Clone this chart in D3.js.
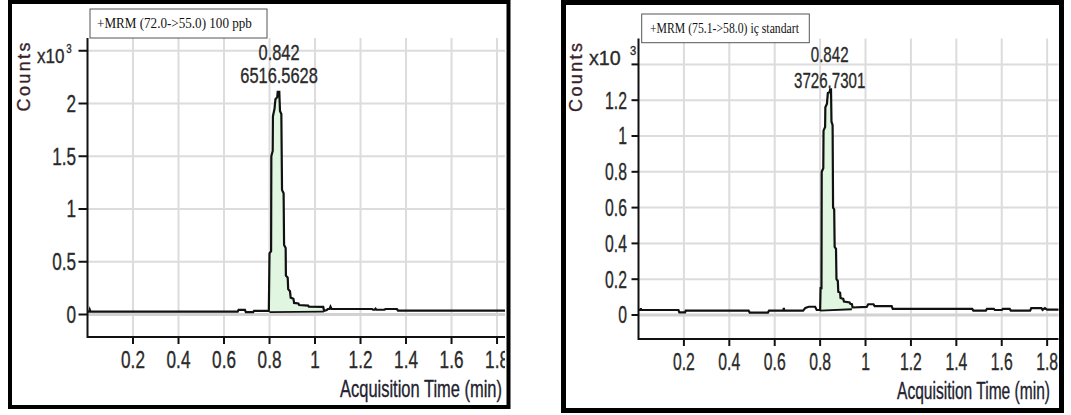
<!DOCTYPE html>
<html><head><meta charset="utf-8">
<script src="https://cdn.jsdelivr.net/npm/d3@7"></script>
<style>body{margin:0;background:#fff;} svg{display:block}</style>
</head><body>
<svg id="c" width="1071" height="415"></svg>
<script>
// ---------------- DATA ----------------
const xTickValues = [0.2, 0.4, 0.6, 0.8, 1.0, 1.2, 1.4, 1.6, 1.8];
const leftYTickValues = [0, 0.5, 1, 1.5, 2, 2.5];
const rightYTickValues = [0, 0.2, 0.4, 0.6, 0.8, 1.0, 1.2, 1.4];
const leftTitle = "+MRM (72.0->55.0) 100 ppb";
const rightTitle = "+MRM (75.1->58.0) iç standart";
const leftPeakLabels = ["0.842", "6516.5628"];
const rightPeakLabels = ["0.842", "3726.7301"];
const peakRT = 0.842;
const yAxisTitle = "Counts";
const xAxisTitle = "Acquisition Time (min)";
const multiplierBase = "x10", multiplierExp = "3";

// left trace: time (min), counts (x10^3)
const leftTime = [0, 0.008, 0.010, 0.013, 0.660, 0.664, 0.692, 0.696, 0.728, 0.732, 0.797,
  0.800, 0.807, 0.808, 0.814, 0.815, 0.822, 0.826, 0.834, 0.836, 0.843, 0.846, 0.852, 0.855,
  0.862, 0.864, 0.871, 0.872, 0.880, 0.882, 0.890, 0.893, 0.905, 0.908, 0.927, 0.930, 0.970,
  0.973, 1.036, 1.040, 1.052, 1.056, 1.064, 1.068, 1.073, 1.250, 1.256, 1.262, 1.266, 1.270,
  1.305, 1.310, 1.360, 1.365, 1.835];
const leftCounts = [0.027, 0.027, 0.045, 0.027, 0.027, 0.043, 0.043, 0.022, 0.022, 0.035, 0.035,
  0.58, 0.60, 1.50, 1.55, 1.88, 1.95, 2.04, 2.06, 2.11, 2.11, 1.93, 1.90, 1.18,
  1.15, 0.66, 0.63, 0.37, 0.35, 0.24, 0.22, 0.16, 0.15, 0.11, 0.105, 0.09, 0.085,
  0.075, 0.072, 0.035, 0.042, 0.052, 0.052, 0.074, 0.052, 0.052, 0.045, 0.045, 0.055, 0.045,
  0.045, 0.052, 0.052, 0.036, 0.036];
const leftIntTime = [0.800, 1.038];
const leftIntBase = [0.022, 0.028];

// right trace: time (min), counts (x10^3)
const rightTime = [0, 0.008, 0.010, 0.012, 0.176, 0.180, 0.205, 0.208, 0.485, 0.490, 0.570,
  0.575, 0.638, 0.640, 0.642, 0.725, 0.735, 0.750, 0.778, 0.785, 0.800, 0.802, 0.806, 0.807,
  0.814, 0.815, 0.822, 0.823, 0.830, 0.834, 0.842, 0.844, 0.848, 0.850, 0.855, 0.857, 0.862,
  0.864, 0.870, 0.872, 0.878, 0.880, 0.888, 0.890, 0.902, 0.905, 0.930, 0.933, 0.940, 0.943,
  1.005, 1.012, 1.035, 1.040, 1.115, 1.120, 1.470, 1.475, 1.530, 1.535, 1.565, 1.570, 1.600,
  1.605, 1.635, 1.640, 1.725, 1.730, 1.775, 1.780, 1.790, 1.800, 1.850];
const rightCounts = [0.028, 0.028, 0.038, 0.028, 0.028, 0.015, 0.015, 0.024, 0.024, 0.013, 0.013,
  0.024, 0.024, 0.040, 0.024, 0.024, 0.040, 0.046, 0.046, 0.028, 0.028, 0.15, 0.15, 0.80,
  0.82, 1.03, 1.05, 1.16, 1.18, 1.24, 1.245, 1.26, 1.26, 1.08, 1.06, 0.60, 0.59,
  0.38, 0.37, 0.20, 0.19, 0.13, 0.125, 0.095, 0.09, 0.075, 0.07, 0.062, 0.06, 0.042,
  0.045, 0.060, 0.060, 0.050, 0.050, 0.034, 0.034, 0.024, 0.024, 0.034, 0.034, 0.028, 0.028,
  0.034, 0.034, 0.024, 0.024, 0.038, 0.038, 0.028, 0.038, 0.030, 0.030];
const rightIntTime = [0.800, 0.940];
const rightIntBase = [0.024, 0.032];

// ---------------- LAYOUT ----------------
const SANS = "'Liberation Sans',Arial,sans-serif";
const SERIF = "'Liberation Serif','Times New Roman',serif";
const panels = [
  { id: "L", frame: {x0: 8, y0: 0, x1: 510.5, y1: 409, sw: 4},
    plot: {l: 87.5, r: 505, t: 38, b: 337}, xMax: 1.835, y0px: 314.5, yUnit: 105.5,
    yTicks: leftYTickValues, title: leftTitle, titleBox: {x: 90, y: 9, w: 177, h: 29}, titleText: {x: 97, y: 28, w: 155},
    counts: {x: 24, y: 77}, mult: {x: 37, y: 63, gap: 2, sup: -10, w: 33},
    peak: leftPeakLabels, peakY: [60, 83], xLab: {x: 502, y: 397, w: 162}, xTickY: 368, yLabX: 76, yTickLen: 9,
    sq: 0.73,
    time: leftTime, counts_: leftCounts, intT: leftIntTime, intB: leftIntBase },
  { id: "R", frame: {x0: 561, y0: 0, x1: 1064, y1: 413, sw: 5},
    plot: {l: 638.5, r: 1058.5, t: 38.5, b: 339}, xMax: 1.850, y0px: 315, yUnit: 179,
    yTicks: rightYTickValues, title: rightTitle, titleBox: {x: 641.7, y: 14, w: 167.6, h: 28.7}, titleText: {x: 650, y: 32.5, w: 149},
    counts: {x: 576, y: 77.5}, mult: {x: 589, y: 65, gap: 10, sup: -10, w: 38},
    peak: rightPeakLabels, peakY: [62, 88], xLab: {x: 1050, y: 399, w: 153}, xTickY: 370, yLabX: 627, yTickLen: 7,
    sq: 0.67,
    time: rightTime, counts_: rightCounts, intT: rightIntTime, intB: rightIntBase }
];

const svg = d3.select("#c");
const defs = svg.append("defs");

// horizontally condensed text, drawn with a transform so its box is exact
// opts: {x, y, anchor, size, family, fill, factor | width, dy}
function condensed(parent, str, o) {
  const wrap = parent.append("g");
  const t = wrap.append("text").attr("x", 0).attr("y", 0)
    .attr("text-anchor", o.anchor || "start").attr("dy", o.dy || null)
    .attr("font-family", o.family || SANS).attr("font-size", o.size).attr("fill", o.fill || "#2a2a2a")
    .attr("stroke", o.bold === false ? null : (o.fill || "#2a2a2a")).attr("stroke-width", o.bold === false ? null : 0.35);
  if (typeof str === "string") t.text(str); else str(t);
  const len = t.node().getComputedTextLength();
  const f = o.width ? o.width / len : o.factor;
  wrap.attr("transform", `translate(${o.x},${o.y}) scale(${f},1)`);
  return wrap;
}

panels.forEach(p => {
  const g = svg.append("g");
  const P = p.plot;
  const x = d3.scaleLinear().domain([0, p.xMax]).range([P.l, P.r]);
  const yMin = -(P.b - p.y0px) / p.yUnit, yMax = (p.y0px - P.t) / p.yUnit;
  const y = d3.scaleLinear().domain([yMin, yMax]).range([P.b, P.t]);

  defs.append("clipPath").attr("id", "clip" + p.id)
    .append("rect").attr("x", P.l - 60).attr("y", 0).attr("width", P.r - P.l + 60).attr("height", 415);

  // gridlines
  const grid = g.append("g");
  grid.selectAll("line.v").data(xTickValues).join("line")
    .attr("x1", d => x(d)).attr("x2", d => x(d)).attr("y1", P.t).attr("y2", P.b)
    .attr("stroke", "#dcdcdc").attr("stroke-width", 2);
  grid.selectAll("line.h").data(p.yTicks).join("line")
    .attr("x1", P.l).attr("x2", P.r).attr("y1", d => y(d)).attr("y2", d => y(d))
    .attr("stroke", d => d === 0 ? "#d2d2d2" : "#dcdcdc").attr("stroke-width", d => d === 0 ? 3 : 2);

  // integrated area
  const [t0, t1] = p.intT;
  const baseAt = t => p.intB[0] + (p.intB[1] - p.intB[0]) * (t - t0) / (t1 - t0);
  const curveAt = t => {
    const i = d3.bisectRight(p.time, t);
    if (i <= 0) return p.counts_[0];
    if (i >= p.time.length) return p.counts_[p.counts_.length - 1];
    const ta = p.time[i - 1], tb = p.time[i];
    return p.counts_[i - 1] + (p.counts_[i] - p.counts_[i - 1]) * (t - ta) / (tb - ta);
  };
  const areaPts = [t0, ...p.time.filter(t => t > t0 && t < t1), t1].map(t => ({t, v: curveAt(t), b: baseAt(t)}));
  g.append("path").datum(areaPts)
    .attr("d", d3.area().x(d => x(d.t)).y0(d => y(d.b)).y1(d => y(d.v)))
    .attr("fill", "#e0f6e0").attr("stroke", "none");
  g.append("line").attr("x1", x(t0)).attr("x2", x(t1)).attr("y1", y(p.intB[0])).attr("y2", y(p.intB[1]))
    .attr("stroke", "#111").attr("stroke-width", 1.8);

  // trace
  const pts = p.time.map((t, i) => ({t, v: p.counts_[i]}));
  g.append("path").datum(pts)
    .attr("d", d3.line().x(d => x(d.t)).y(d => y(d.v)))
    .attr("fill", "none").attr("stroke", "#111").attr("stroke-width", 2.2).attr("stroke-linejoin", "miter");

  // axes lines
  g.append("line").attr("x1", P.l).attr("x2", P.l).attr("y1", P.t).attr("y2", P.b + 1).attr("stroke", "#111").attr("stroke-width", 2);
  g.append("line").attr("x1", P.l).attr("x2", P.r).attr("y1", P.b).attr("y2", P.b).attr("stroke", "#111").attr("stroke-width", 2);

  // y ticks + labels (top tick carries the multiplier instead of a number)
  g.selectAll("line.yt").data(p.yTicks).join("line")
    .attr("x1", P.l - p.yTickLen).attr("x2", P.l).attr("y1", d => y(d)).attr("y2", d => y(d))
    .attr("stroke", "#111").attr("stroke-width", 2);
  p.yTicks.slice(0, -1).forEach(v => {
    condensed(g, d3.format("~g")(v), {x: p.yLabX, y: y(v), anchor: "end", dy: "0.36em", size: 23.5, factor: p.sq});
  });

  // x ticks + labels
  g.selectAll("line.xt").data(xTickValues).join("line")
    .attr("x1", d => x(d)).attr("x2", d => x(d)).attr("y1", P.b).attr("y2", P.b + 7)
    .attr("stroke", "#111").attr("stroke-width", 2);
  const xl = g.append("g").attr("clip-path", `url(#clip${p.id})`);
  xTickValues.forEach(v => {
    condensed(xl, d3.format("~g")(v), {x: x(v), y: p.xTickY, anchor: "middle", size: 23.5, factor: p.sq});
  });

  // axis titles
  condensed(g, xAxisTitle, {x: p.xLab.x, y: p.xLab.y, anchor: "end", size: 23, fill: "#22222e", width: p.xLab.w});
  g.append("text").attr("transform", `translate(${p.counts.x},${p.counts.y}) rotate(-90)`)
    .attr("text-anchor", "middle").attr("dy", "0.36em")
    .attr("font-family", SANS).attr("font-size", 18).attr("fill", "#3a1f2a")
    .attr("stroke", "#3a1f2a").attr("stroke-width", 0.35)
    .attr("textLength", 69).attr("lengthAdjust", "spacing").text(yAxisTitle);

  // multiplier "x10^3" as one text with a superscript tspan
  condensed(g, t => {
    t.append("tspan").text(multiplierBase);
    t.append("tspan").attr("dx", p.mult.gap).attr("dy", p.mult.sup).attr("font-size", 12).text(multiplierExp);
  }, {x: p.mult.x, y: p.mult.y, size: 21, width: p.mult.w});

  // title box
  g.append("rect").attr("x", p.titleBox.x).attr("y", p.titleBox.y).attr("width", p.titleBox.w).attr("height", p.titleBox.h)
    .attr("fill", "#fff").attr("stroke", "#555").attr("stroke-width", 1);
  condensed(g, p.title, {x: p.titleText.x, y: p.titleText.y, size: 15, family: SERIF, fill: "#111", width: p.titleText.w, bold: false});

  // peak annotation
  p.peak.forEach((s, i) => {
    condensed(g, s, {x: x(peakRT), y: p.peakY[i], anchor: "middle", size: 22.5, factor: p.sq});
  });

  // frame
  const F = p.frame, h = F.sw / 2;
  g.append("rect").attr("x", F.x0 + h).attr("y", F.y0 + h).attr("width", F.x1 - F.x0 - F.sw).attr("height", F.y1 - F.y0 - F.sw)
    .attr("fill", "none").attr("stroke", "#000").attr("stroke-width", F.sw);
});
</script>
</body></html>
